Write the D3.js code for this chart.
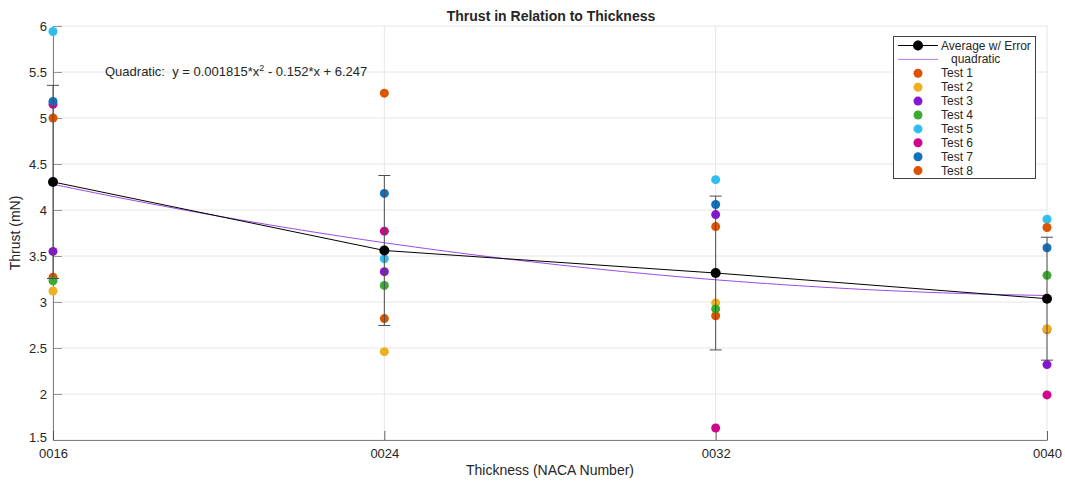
<!DOCTYPE html>
<html>
<head>
<meta charset="utf-8">
<script src="https://cdn.jsdelivr.net/npm/d3@7"></script>
<style>
  html, body { margin: 0; padding: 0; background: #fff; }
  svg { display: block; font-family: "Liberation Sans", Arial, Helvetica, sans-serif; }
</style>
</head>
<body>
<svg id="chart" width="1065" height="482"></svg>
<script>
// ---- data ----
const thicknessLabels = ["0016", "0024", "0032", "0040"];
const thicknessValues = [16, 24, 32, 40];
const test1 = [3.27, 2.82, 2.85, 2.70];
const test2 = [3.12, 2.46, 2.99, 2.71];
const test3 = [3.55, 3.33, 3.95, 2.32];
const test4 = [3.23, 3.18, 2.925, 3.29];
const test5 = [5.94, 3.47, 4.33, 3.90];
const test6 = [5.15, 3.77, 1.63, 1.99];
const test7 = [5.18, 4.18, 4.06, 3.59];
const test8 = [5.00, 5.27, 3.82, 3.81];
const averages = [4.305, 3.56, 3.315, 3.036];
const errors = [1.05, 0.815, 0.836, 0.668];
const quadCoeffs = [0.001815, -0.152, 6.247];
const yTicks = [1.5, 2, 2.5, 3, 3.5, 4, 4.5, 5, 5.5, 6];
const testNames = ["Test 1", "Test 2", "Test 3", "Test 4", "Test 5", "Test 6", "Test 7", "Test 8"];
const testColors = ["#DD5400", "#EDB120", "#8516D1", "#3BAA32", "#2FBEEF", "#D1048B", "#1171BE", "#DD5400"];
const tests = [test1, test2, test3, test4, test5, test6, test7, test8];

// ---- layout ----
const svg = d3.select("#chart");
const L = 53, R = 1047, T = 26, B = 440;
const x = d3.scaleLinear().domain([16, 40]).range([L, R]);
const y = d3.scaleLinear().domain([1.5, 6]).range([B, T]);
const axisColor = "#7f7f7f", textColor = "#262626", gridColor = "#e6e6e6";

// grid
const g = svg.append("g");
g.selectAll(".gy").data(yTicks).join("line")
  .attr("x1", L).attr("x2", R).attr("y1", d => y(d)).attr("y2", d => y(d))
  .attr("stroke", gridColor).attr("stroke-width", 1);
g.selectAll(".gx").data(thicknessValues).join("line")
  .attr("x1", d => x(d)).attr("x2", d => x(d)).attr("y1", T).attr("y2", B)
  .attr("stroke", gridColor).attr("stroke-width", 1);

// axes
const yAxis = d3.axisLeft(y).tickValues(yTicks).tickFormat(d => String(d)).tickSizeInner(-9).tickSizeOuter(0).tickPadding(6);
const yg = svg.append("g").attr("transform", `translate(${L},0)`).call(yAxis);
const xAxis = d3.axisBottom(x).tickValues(thicknessValues).tickFormat((d, i) => thicknessLabels[i]).tickSizeInner(-9).tickSizeOuter(0).tickPadding(9);
const xg = svg.append("g").attr("transform", `translate(0,${B})`).call(xAxis);
[yg, xg].forEach(a => {
  a.select(".domain").attr("stroke", axisColor).attr("stroke-width", 1);
  a.selectAll(".tick line").attr("stroke", "#404040").attr("stroke-width", 0.8);
  a.selectAll(".tick text").attr("fill", textColor).attr("font-size", 13)
   .attr("font-family", "'Liberation Sans', Arial, sans-serif");
});
yg.selectAll(".tick line").attr("stroke", axisColor);
yg.selectAll(".tick text").attr("dy", (d) => d === 1.5 ? "0.1em" : "0.32em");

// quadratic fit line (from displayed coefficients)
const fitX = d3.range(16, 40.001, 0.25);
const quad = v => quadCoeffs[0] * v * v + quadCoeffs[1] * v + quadCoeffs[2];
svg.append("path")
  .datum(fitX)
  .attr("d", d3.line().x(d => x(d)).y(d => y(quad(d))))
  .attr("fill", "none").attr("stroke", "#9a4be6").attr("stroke-width", 1);

// average with error bars
const avgG = svg.append("g");
avgG.selectAll(".eb").data(thicknessValues).join("line")
  .attr("x1", d => x(d)).attr("x2", d => x(d))
  .attr("y1", (d, i) => y(averages[i] - errors[i])).attr("y2", (d, i) => y(averages[i] + errors[i]))
  .attr("stroke", "#4d4d4d").attr("stroke-width", 1);
["lo", "hi"].forEach(k => {
  avgG.selectAll(".cap" + k).data(thicknessValues).join("line")
    .attr("x1", d => x(d) - 6).attr("x2", d => x(d) + 6)
    .attr("y1", (d, i) => y(k === "lo" ? averages[i] - errors[i] : averages[i] + errors[i]))
    .attr("y2", (d, i) => y(k === "lo" ? averages[i] - errors[i] : averages[i] + errors[i]))
    .attr("stroke", "#4d4d4d").attr("stroke-width", 1);
});
avgG.append("path")
  .datum(thicknessValues)
  .attr("d", d3.line().x(d => x(d)).y((d, i) => y(averages[i])))
  .attr("fill", "none").attr("stroke", "#000").attr("stroke-width", 1);

// tests
tests.forEach((vals, t) => {
  svg.append("g").selectAll("circle").data(thicknessValues).join("circle")
    .attr("cx", d => x(d)).attr("cy", (d, i) => y(vals[i]))
    .attr("r", 4.5).attr("fill", testColors[t]);
});

// average markers on top
avgG.raise();
avgG.selectAll(".am").data(thicknessValues).join("circle")
  .attr("cx", d => x(d)).attr("cy", (d, i) => y(averages[i]))
  .attr("r", 5).attr("fill", "#000");

// title & labels
svg.append("text").attr("x", 551).attr("y", 21).attr("text-anchor", "middle")
  .attr("font-weight", "bold").attr("font-size", 14).attr("fill", "#262626")
  .text("Thrust in Relation to Thickness");
svg.append("text").attr("x", 550).attr("y", 475).attr("text-anchor", "middle")
  .attr("font-size", 14).attr("fill", textColor).text("Thickness (NACA Number)");
svg.append("text").attr("transform", "translate(20,233) rotate(-90)").attr("text-anchor", "middle")
  .attr("font-size", 14).attr("fill", textColor).text("Thrust (mN)");

// equation
const eq = svg.append("text").attr("x", 105).attr("y", 76).attr("font-size", 13).attr("fill", textColor)
  .attr("xml:space", "preserve");
eq.append("tspan").text("Quadratic:  y = " + quadCoeffs[0] + "*x");
eq.append("tspan").attr("dy", -5).attr("font-size", 9).text("2");
eq.append("tspan").attr("dy", 5).text(" - " + Math.abs(quadCoeffs[1]) + "*x + " + quadCoeffs[2]);

// legend
const lg = svg.append("g");
lg.append("rect").attr("x", 893.5).attr("y", 36.5).attr("width", 142).attr("height", 142)
  .attr("fill", "#fff").attr("stroke", "#404040").attr("stroke-width", 1);
const rowY = i => 45.5 + i * 13.9;
// average entry
lg.append("line").attr("x1", 898).attr("x2", 938).attr("y1", rowY(0)).attr("y2", rowY(0)).attr("stroke", "#000");
lg.append("line").attr("x1", 918).attr("x2", 918).attr("y1", rowY(0) - 5).attr("y2", rowY(0) + 5).attr("stroke", "#4d4d4d");
lg.append("circle").attr("cx", 918).attr("cy", rowY(0)).attr("r", 5).attr("fill", "#000");
lg.append("text").attr("x", 941).attr("y", rowY(0) + 4).attr("font-size", 12).attr("fill", textColor).text("Average w/ Error");
// quadratic entry
lg.append("line").attr("x1", 898).attr("x2", 938).attr("y1", rowY(1)).attr("y2", rowY(1)).attr("stroke", "#b57ee8");
lg.append("text").attr("x", 951).attr("y", rowY(1) + 4).attr("font-size", 12).attr("fill", textColor).text("quadratic");
testNames.forEach((n, i) => {
  lg.append("circle").attr("cx", 918).attr("cy", rowY(i + 2)).attr("r", 4.5).attr("fill", testColors[i]);
  lg.append("text").attr("x", 941).attr("y", rowY(i + 2) + 4).attr("font-size", 12).attr("fill", textColor).text(n);
});
</script>
</body>
</html>
